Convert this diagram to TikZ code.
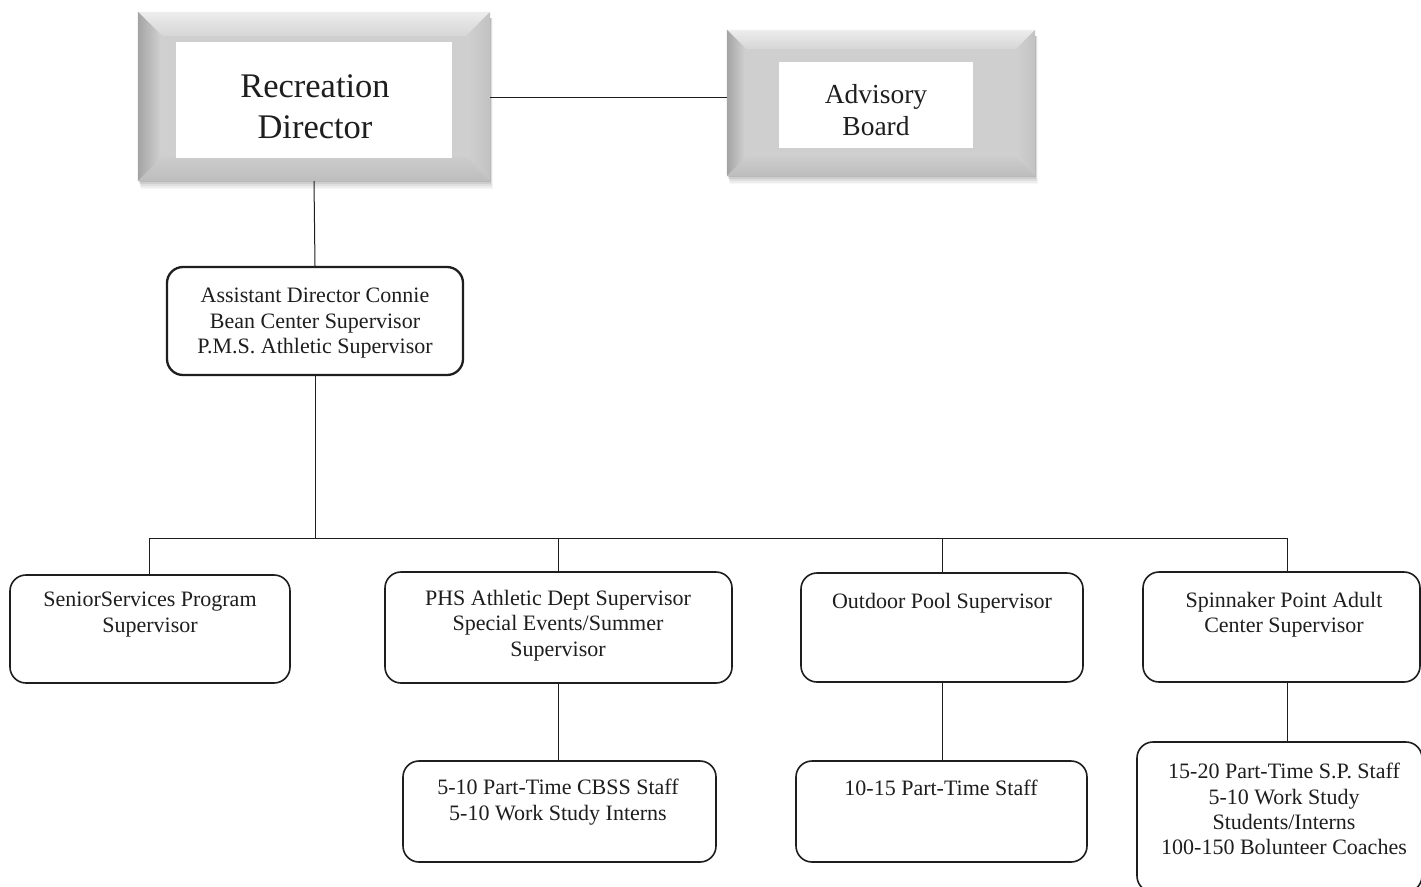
\documentclass[tikz,border=0pt]{standalone}
\usepackage{fontspec}
\setmainfont{Liberation Serif}
\usetikzlibrary{calc}

\definecolor{bevflat}{HTML}{CFCFCF}
\definecolor{bevtopA}{HTML}{EDEDED}
\definecolor{bevtopB}{HTML}{D6D6D6}
\definecolor{bevleftA}{HTML}{A4A4A4}
\definecolor{bevleftB}{HTML}{D2D2D2}
\definecolor{bevrightA}{HTML}{D0D0D0}
\definecolor{bevrightB}{HTML}{C2C2C2}
\definecolor{bevbotA}{HTML}{CCCCCC}
\definecolor{bevbotB}{HTML}{BDBDBD}
\definecolor{inkline}{HTML}{1E1E1E}

\tikzset{
  orgbox/.style={draw=inkline, line width=1.6pt, rounded corners=16pt, fill=white, inner sep=0pt},
  leadbox/.style={orgbox, line width=2.3pt},
  boxtext/.style={anchor=north, align=center, inner sep=0pt, text=inkline,
                  font=\fontsize{22}{25.3}\selectfont},
  link/.style={draw=inkline, line width=1pt},
  frameouter/.style={fill=bevflat, inner sep=0pt},
  framepanel/.style={fill=white, inner sep=0pt},
}

% bevelled grey frame drawn around the node #1 with bevel depth #2
\newcommand\bevelframe[2]{%
  \foreach \k/\op in {1/0.10,3/0.08,5/0.06,7/0.04,9/0.03}{
    \fill[black, opacity=\op]
      ($(#1.north west)+(1+0.2*\k,6)$) rectangle ($(#1.south east)+(0.3*\k,0.9*\k)$);
  }
  \fill[bevflat] (#1.north west) rectangle (#1.south east);
  \shade[top color=bevtopA, bottom color=bevtopB]
    (#1.north west) -- (#1.north east) -- ($(#1.north east)+(-#2,#2)$)
    -- ($(#1.north west)+(#2,#2)$) -- cycle;
  \shade[left color=bevleftA, right color=bevleftB]
    (#1.north west) -- ($(#1.north west)+(#2,#2)$) -- ($(#1.south west)+(#2,-#2)$)
    -- (#1.south west) -- cycle;
  \shade[left color=bevrightA, right color=bevrightB]
    (#1.north east) -- ($(#1.north east)+(-#2,#2)$) -- ($(#1.south east)+(-#2,-#2)$)
    -- (#1.south east) -- cycle;
  \shade[top color=bevbotA, bottom color=bevbotB]
    (#1.south west) -- ($(#1.south west)+(#2,-#2)$) -- ($(#1.south east)+(-#2,-#2)$)
    -- (#1.south east) -- cycle;
}

\begin{document}
\begin{tikzpicture}[x=1pt, y=-1pt]
\useasboundingbox (0,0) rectangle (1421,886);
\clip (0,0) rectangle (1421,886);
\fill[white] (0,0) rectangle (1421,886);

% ---- top level: director and advisory board ----
\path node[frameouter, minimum width=352, minimum height=169] (rd) at (314,96.5) {};
\bevelframe{rd}{24}
\node[framepanel, minimum width=276, minimum height=116] (rdpanel) at (314,100) {};
\node[anchor=north, align=center, inner sep=0pt, text=inkline,
      font=\fontsize{34.5}{41}\selectfont] (rdtext) at (315,74) {Recreation\\Director};

\path node[frameouter, minimum width=308, minimum height=146] (ab) at (881,103) {};
\bevelframe{ab}{19}
\node[framepanel, minimum width=194, minimum height=86] (abpanel) at (876,105) {};
\node[anchor=north, align=center, inner sep=0pt, text=inkline,
      font=\fontsize{27.5}{32}\selectfont] (abtext) at (876,84) {Advisory\\Board};

\draw[link] (rd.east |- 0,97) -- (ab.west |- 0,97);

% ---- assistant director ----
\node[leadbox, minimum width=296, minimum height=108] (asst) at (315,321) {};
\node[boxtext] (assttext) at (315,288)
  {Assistant Director Connie\\Bean Center Supervisor\\P.M.S. Athletic Supervisor};
\draw[link] (rd.south) -- (asst.north);

% ---- supervisors ----
\node[orgbox, minimum width=280, minimum height=108] (senior) at (150,629) {};
\node[boxtext] (seniortext) at (150,592) {SeniorServices Program\\Supervisor};

\node[orgbox, minimum width=347, minimum height=111] (phs) at (558.5,627.5) {};
\node[boxtext] (phstext) at (558,590)
  {PHS Athletic Dept Supervisor\\Special Events/Summer\\Supervisor};

\node[orgbox, minimum width=282, minimum height=109] (pool) at (942,627.5) {};
\node[boxtext] (pooltext) at (942,593) {Outdoor Pool Supervisor};

\node[orgbox, minimum width=277, minimum height=110] (spin) at (1281.5,627) {};
\node[boxtext] (spintext) at (1284,592) {Spinnaker Point Adult\\Center Supervisor};

% ---- staff ----
\node[orgbox, minimum width=313, minimum height=101] (cbss) at (559.5,811.5) {};
\node[boxtext] (cbsstext) at (558,779) {5-10 Part-Time CBSS Staff\\5-10 Work Study Interns};

\node[orgbox, minimum width=291, minimum height=101] (ptstaff) at (941.5,811.5) {};
\node[boxtext] (ptstafftext) at (941,780) {10-15 Part-Time Staff};

\node[orgbox, minimum width=285, minimum height=150] (spinstaff) at (1279.5,817) {};
\node[boxtext] (spinstafftext) at (1284,763)
  {15-20 Part-Time S.P. Staff\\5-10 Work Study\\Students/Interns\\100-150 Bolunteer Coaches};

% ---- connectors ----
\coordinate (bus) at (315,538);
\coordinate (dropA) at (149,538);
\coordinate (dropB) at (558,538);
\coordinate (dropC) at (942,538);
\coordinate (dropD) at (1287,538);

\draw[link] (asst.south) -- (bus);
\draw[link] (dropA) -- (dropD);
\draw[link] (dropA) -- (dropA |- senior.north);
\draw[link] (dropB) -- (dropB |- phs.north);
\draw[link] (dropC) -- (dropC |- pool.north);
\draw[link] (dropD) -- (dropD |- spin.north);

\draw[link] (dropB |- phs.south) -- (dropB |- cbss.north);
\draw[link] (dropC |- pool.south) -- (dropC |- ptstaff.north);
\draw[link] (dropD |- spin.south) -- (dropD |- spinstaff.north);
\end{tikzpicture}
\end{document}
